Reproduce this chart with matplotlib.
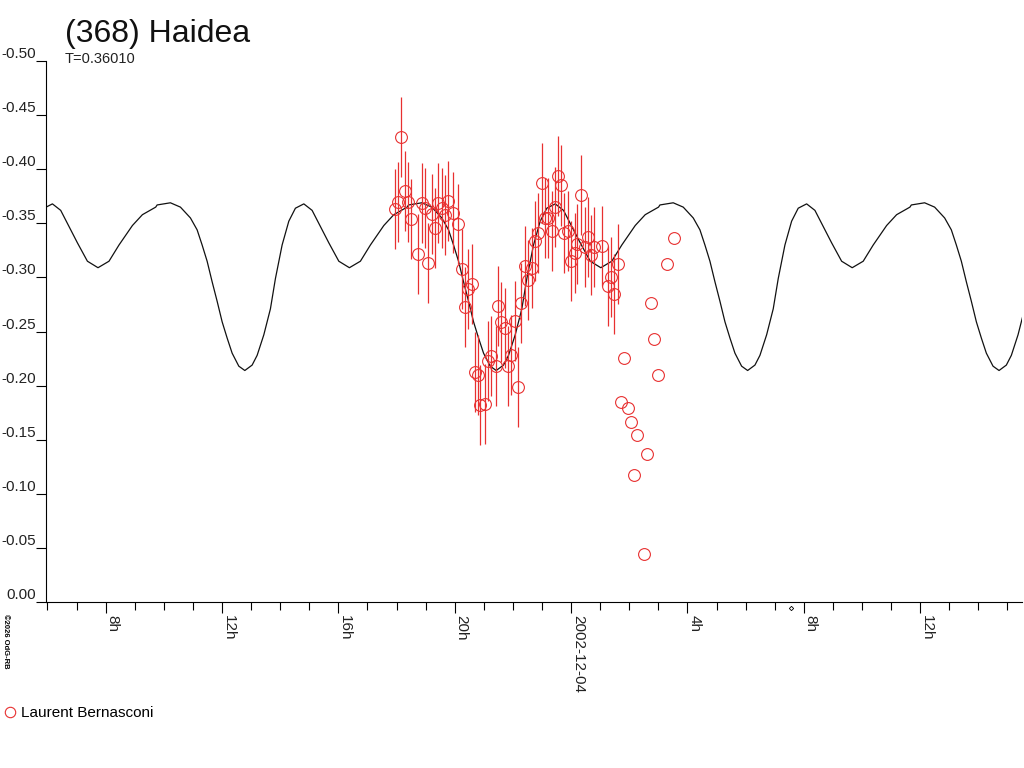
import numpy as np
import matplotlib
matplotlib.use('Agg')
import matplotlib.pyplot as plt
from matplotlib.ticker import MultipleLocator, FixedLocator, FixedFormatter, FormatStrFormatter
from matplotlib.lines import Line2D

plt.rcParams['font.family'] = ['Liberation Sans', 'DejaVu Sans']
plt.rcParams['axes.unicode_minus'] = False

title = '(368) Haidea'
period_days = 0.36010
observer = 'Laurent Bernasconi'
credit = '©2026 OdG-RB'

# time in hours from 2002-12-03 0h UT, relative magnitude
obs_time = [17.945, 18.048, 18.162, 18.278, 18.402, 18.512, 18.746, 18.863,
            18.987, 19.090, 19.207, 19.320, 19.434, 19.550, 19.664, 19.777,
            19.928, 20.121, 20.238, 20.351, 20.465, 20.582, 20.695, 20.798,
            20.884, 21.039, 21.142, 21.262, 21.410, 21.486, 21.606, 21.716,
            21.840, 21.950, 22.070, 22.184, 22.293, 22.414, 22.527, 22.644,
            22.758, 22.871, 22.988, 23.101, 23.215, 23.332, 23.445, 23.559,
            23.652, 23.755, 23.889, 24.002, 24.126, 24.219, 24.349, 24.463,
            24.573, 24.683, 24.796, 25.051, 25.277, 25.380, 25.484, 25.604]
obs_mag = [-0.363, -0.370, -0.430, -0.380, -0.370, -0.354, -0.322, -0.369,
           -0.364, -0.313, -0.359, -0.346, -0.369, -0.364, -0.358, -0.371,
           -0.360, -0.349, -0.308, -0.273, -0.289, -0.294, -0.213, -0.210,
           -0.182, -0.183, -0.223, -0.227, -0.218, -0.274, -0.259, -0.253,
           -0.218, -0.228, -0.260, -0.199, -0.276, -0.311, -0.298, -0.309,
           -0.334, -0.341, -0.387, -0.355, -0.355, -0.343, -0.365, -0.394,
           -0.385, -0.341, -0.343, -0.315, -0.323, -0.331, -0.376, -0.328,
           -0.337, -0.321, -0.328, -0.329, -0.292, -0.300, -0.285, -0.312]
mag_err = 0.037

# points drawn without error bars
extra_time = [25.704, 25.827, 25.955, 26.068, 26.171, 26.274, 26.515,
              26.618, 26.735, 26.859, 26.976, 27.306, 27.546]
extra_mag = [-0.185, -0.226, -0.179, -0.166, -0.117, -0.154, -0.044,
             -0.137, -0.276, -0.243, -0.210, -0.312, -0.336]

# one cycle of the fitted curve
curve_time = [27.055, 27.512, 27.856, 28.200, 28.430, 28.602, 28.774, 28.946,
              29.118, 29.290, 29.462, 29.634, 29.863, 30.070, 30.321, 30.493,
              30.723, 30.950, 31.122, 31.352, 31.582, 31.809, 32.098, 32.383,
              32.669, 32.957, 33.301, 33.665, 34.043, 34.387, 34.848, 35.191,
              35.649]
curve_mag = [-0.367, -0.369, -0.365, -0.355, -0.344, -0.330, -0.315, -0.296,
             -0.278, -0.259, -0.244, -0.230, -0.218, -0.214, -0.219, -0.228,
             -0.247, -0.271, -0.299, -0.330, -0.352, -0.364, -0.368, -0.362,
             -0.347, -0.332, -0.315, -0.309, -0.315, -0.330, -0.348, -0.358,
             -0.365]

xtick_pos = [8, 12, 16, 20, 24, 28, 32, 36]
xtick_labels = ['8h', '12h', '16h', '20h', '2002-12-04', '4h', '8h', '12h']
time_range = (5.96, 39.5)
mag_range = (0.0, -0.50)
mark_time = 31.56

red = '#e83030'

fig = plt.figure(figsize=(10.24, 7.68), dpi=100)
ax = fig.add_axes([0.0452, 0.2161, 0.9528, 0.7044])

period_h = period_days * 24
ct = np.concatenate([np.array(curve_time) + k * period_h for k in range(-3, 2)])
cm = np.tile(curve_mag, 5)
ax.plot(ct, cm, color='#111111', lw=0.9, solid_joinstyle='round')

ax.errorbar(obs_time, obs_mag, yerr=mag_err, fmt='o', mfc='none', mec=red,
            ecolor=red, elinewidth=0.9, ms=8.5, mew=0.8, capsize=0)
ax.plot(extra_time, extra_mag, 'o', mfc='none', mec=red, ms=8.5, mew=0.8)
ax.plot([mark_time], [0.0055], marker='D', ms=2.2, mfc='white', mec='black',
        mew=0.6, clip_on=False)

ax.set_xlim(*time_range)
ax.set_ylim(*mag_range)

for s in ['top', 'right']:
    ax.spines[s].set_visible(False)
for s in ['left', 'bottom']:
    ax.spines[s].set_linewidth(0.8)

ax.xaxis.set_major_locator(FixedLocator(xtick_pos))
ax.xaxis.set_major_formatter(FixedFormatter(xtick_labels))
ax.xaxis.set_minor_locator(MultipleLocator(1))
ax.tick_params(axis='x', which='major', length=8, width=0.8, pad=1.5,
               labelsize=11, labelrotation=-90, labelcolor='#222222')
ax.tick_params(axis='x', which='minor', length=6, width=0.8)
for lab in ax.get_xticklabels():
    lab.set_ha('left')
    lab.set_va('top')

ax.yaxis.set_major_locator(MultipleLocator(0.05))
ax.yaxis.set_major_formatter(FormatStrFormatter('%.2f'))
ax.tick_params(axis='y', length=7.2, width=0.8, pad=0, labelsize=11,
               labelcolor='#222222')
for lab in ax.get_yticklabels():
    lab.set_va('bottom')

fig.text(65 / 1024, 1 - 42 / 768, title, fontsize=23, va='baseline', color='#111111')
fig.text(65 / 1024, 1 - 63 / 768, f'T={period_days:.5f}', fontsize=10.5,
         va='baseline', color='#222222')
fig.text(0.002, 1 - 614 / 768, credit, fontsize=5.5, rotation=-90,
         ha='left', va='top', fontweight='bold')

handle = Line2D([], [], ls='none', marker='o', mfc='none', mec=red, ms=7.5,
                mew=0.8, label=observer)
fig.legend(handles=[handle], loc='center left', bbox_to_anchor=(0.0, 1 - 713 / 768),
           frameon=False, fontsize=11, handlelength=1.3, handletextpad=0.1,
           borderpad=0, borderaxespad=0)

fig.savefig('out.png', dpi=100)
